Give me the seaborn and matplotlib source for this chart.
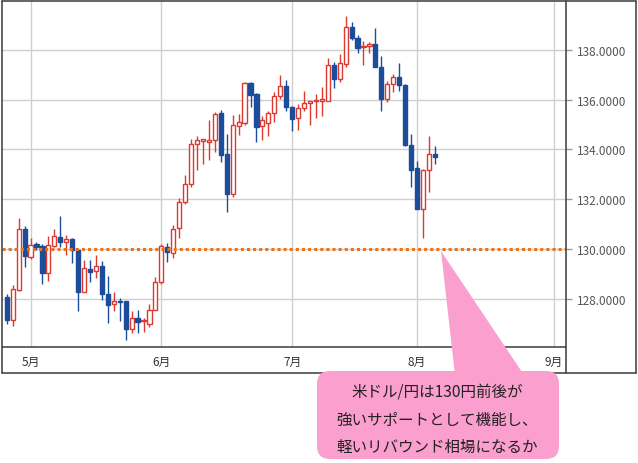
import numpy as np
import pandas as pd
import matplotlib
matplotlib.use("Agg")
import matplotlib.pyplot as plt
import seaborn as sns
from matplotlib.patches import FancyBboxPatch, Polygon
from matplotlib.lines import Line2D

# USD/JPY daily candles, 2022-04-26 .. 2022-08-04 (weekdays)
dates = pd.bdate_range("2022-04-26", "2022-08-04")

opens = [128.07, 127.16, 128.36, 130.79,
         129.69, 130.19, 130.12, 129.05, 130.12, 130.49, 130.29, 130.39, 129.96, 128.27,
         129.20, 129.12, 129.32, 128.19, 127.79, 127.92, 127.89, 126.79, 127.23, 127.09,
         127.00, 127.56,
         128.69, 130.09, 129.85, 130.85, 131.87, 132.59, 134.23, 134.33, 134.29, 134.39,
         135.45, 133.80, 132.19, 134.92, 135.05, 136.65, 136.23, 134.92, 135.07, 135.47,
         136.16, 136.56,
         135.72, 135.27, 135.67, 135.87, 135.93, 135.96, 135.96, 137.40, 136.83, 137.43,
         138.92, 138.47, 138.12, 138.16, 138.23, 137.32, 136.01, 136.63, 136.92, 136.60,
         134.19,
         133.27, 131.59, 133.16, 133.83]
highs = [128.20, 128.56, 131.23, 130.92,
         130.43, 130.28, 130.20, 130.52, 130.79, 131.32, 130.56, 130.45, 130.00, 129.55,
         129.56, 129.76, 129.53, 128.92, 128.27, 128.03, 127.90, 127.49, 127.53, 127.23,
         127.79, 128.87,
         130.20, 130.23, 130.96, 132.03, 132.96, 134.43, 134.52, 134.43, 135.16, 135.50,
         135.59, 134.63, 135.40, 135.43, 136.70, 136.69, 136.25, 135.36, 135.53, 136.29,
         137.00, 136.79,
         135.75, 135.83, 136.36, 135.96, 136.23, 136.52, 137.69, 137.49, 137.85, 139.36,
         139.13, 138.59, 138.36, 138.33, 138.89, 137.76, 136.76, 137.03, 137.45, 136.62,
         134.63,
         133.53, 133.20, 134.52, 134.12]
lows = [127.00, 126.92, 128.30, 129.29,
        129.59, 129.96, 128.60, 128.73, 130.09, 130.09, 129.76, 129.43, 127.52, 128.25,
        128.69, 128.83, 127.96, 127.03, 127.49, 127.09, 126.36, 126.63, 126.63, 126.65,
        126.87, 127.53,
        128.60, 129.49, 129.63, 130.43, 131.80, 132.50, 133.19, 133.40, 133.59, 133.90,
        133.49, 131.49, 132.10, 134.56, 134.96, 135.69, 134.29, 134.36, 134.52, 135.09,
        136.03, 135.56,
        134.73, 134.79, 135.56, 134.96, 135.27, 135.36, 135.96, 136.47, 136.72, 137.32,
        138.39, 137.89, 137.40, 137.89, 137.30, 135.56, 135.89, 136.29, 136.33, 134.15,
        132.49,
        131.59, 130.43, 132.29, 133.43]
closes = [127.13, 128.39, 130.79, 129.73,
          130.16, 130.09, 129.05, 130.16, 130.52, 130.29, 130.39, 129.96, 128.25, 129.23,
          129.09, 129.32, 128.19, 127.76, 127.92, 127.85, 126.79, 127.23, 127.07, 127.12,
          127.56, 128.67,
          130.12, 129.87, 130.79, 131.87, 132.59, 134.23, 134.36, 134.40, 134.39, 135.43,
          133.76, 132.19, 134.96, 135.09, 136.65, 136.19, 134.89, 135.19, 135.47, 136.16,
          136.56, 135.69,
          135.23, 135.67, 135.87, 135.93, 135.96, 136.03, 137.40, 136.83, 137.45, 138.92,
          138.49, 138.09, 138.16, 138.23, 137.32, 136.01, 136.63, 136.92, 136.60, 134.19,
          133.19,
          131.60, 133.16, 133.83, 133.69]

support_level = 130.0
y_ticks = [128, 130, 132, 134, 136, 138]
month_starts = ["2022-05-02", "2022-06-01", "2022-07-01", "2022-08-01", "2022-09-01"]
month_labels = ["5月", "6月", "7月", "8月", "9月"]
note_lines = ["米ドル/円は130円前後が", "強いサポートとして機能し、", "軽いリバウンド相場になるか"]

df = pd.DataFrame({"Date": dates, "Open": opens, "High": highs, "Low": lows, "Close": closes})
df["x"] = np.arange(len(df))
df["Up"] = df["Close"] >= df["Open"]

# position of month starts on the trading-day axis
calendar = pd.bdate_range("2022-04-26", "2022-09-09")
month_pos = [calendar.get_loc(pd.Timestamp(d)) for d in month_starts]

sns.set_theme(style="white")
plt.rcParams["font.family"] = ["Noto Sans CJK JP", "DejaVu Sans"]

UP = "#dc3a2f"
DOWN = "#1b4d9b"
W, H = 638, 464

fig = plt.figure(figsize=(W / 100, H / 100), dpi=100)
ax = fig.add_axes([2 / W, 1 - 348 / H, 564 / W, 346 / H])

# wicks
ax.vlines(df["x"], df["Low"], df["High"],
          colors=np.where(df["Up"], UP, DOWN), linewidth=1.0, zorder=2)
# bodies
body_bottom = np.minimum(df["Open"], df["Close"])
body_height = np.maximum(np.abs(df["Close"] - df["Open"]), 0.04)
ax.bar(df["x"], body_height, bottom=body_bottom, width=0.7,
       color=np.where(df["Up"], "white", DOWN),
       edgecolor=np.where(df["Up"], UP, DOWN), linewidth=1.0, zorder=3)

ax.axhline(support_level, color="#e8741f", linewidth=2.2,
           linestyle=(0, (1, 1)), zorder=4)

ax.set_xlim(-0.8, 94.06)
ax.set_ylim(126.06, 139.96)
ax.set_yticks(y_ticks)
ax.set_yticklabels([f"{v:.4f}" for v in y_ticks])
ax.yaxis.tick_right()
ax.set_xticks(month_pos)
ax.set_xticklabels(month_labels)
ax.grid(True, color="#cfcfcf", linewidth=1.0, zorder=0)
ax.set_axisbelow(True)
ax.tick_params(axis="y", length=4, width=1, color="#999999", pad=4,
               labelsize=8.5, labelcolor="#555555")
ax.tick_params(axis="x", length=0, pad=6, labelsize=8.5, labelcolor="#333333")
for s in ax.spines.values():
    s.set_visible(False)


def px(x, y):
    return x / W, 1 - y / H


# outer frame and separators
frame_col = "#3a3a3a"
for (x0, y0), (x1, y1) in [((1.5, 1.5), (636, 1.5)), ((636, 1.5), (636, 373.5)),
                           ((636, 373.5), (1.5, 373.5)), ((1.5, 373.5), (1.5, 1.5)),
                           ((566, 1.5), (566, 373.5)), ((1.5, 348), (566, 348))]:
    a, b = px(x0, y0)
    c, d = px(x1, y1)
    fig.add_artist(Line2D([a, c], [b, d], color=frame_col, linewidth=1.1,
                          transform=fig.transFigure, zorder=5))

# callout
pink = "#fb9fcf"
wedge = Polygon([(441 / 100, (H - 252) / 100), (456 / 100, (H - 385) / 100),
                 (530 / 100, (H - 385) / 100)],
                closed=True, facecolor=pink, edgecolor="none",
                transform=fig.dpi_scale_trans, zorder=6)
fig.add_artist(wedge)
box = FancyBboxPatch((317 / 100, (H - 460) / 100), 242 / 100, 88 / 100,
                     boxstyle="round,pad=0,rounding_size=0.13",
                     facecolor=pink, edgecolor="none",
                     transform=fig.dpi_scale_trans, zorder=6)
fig.add_artist(box)
for i, line in enumerate(note_lines):
    fx, fy = px(437, 393 + 27 * i)
    fig.text(fx, fy, line, ha="center", va="center", fontsize=11.2,
             color="#222222", zorder=7)

fig.savefig("out.png", dpi=100)
